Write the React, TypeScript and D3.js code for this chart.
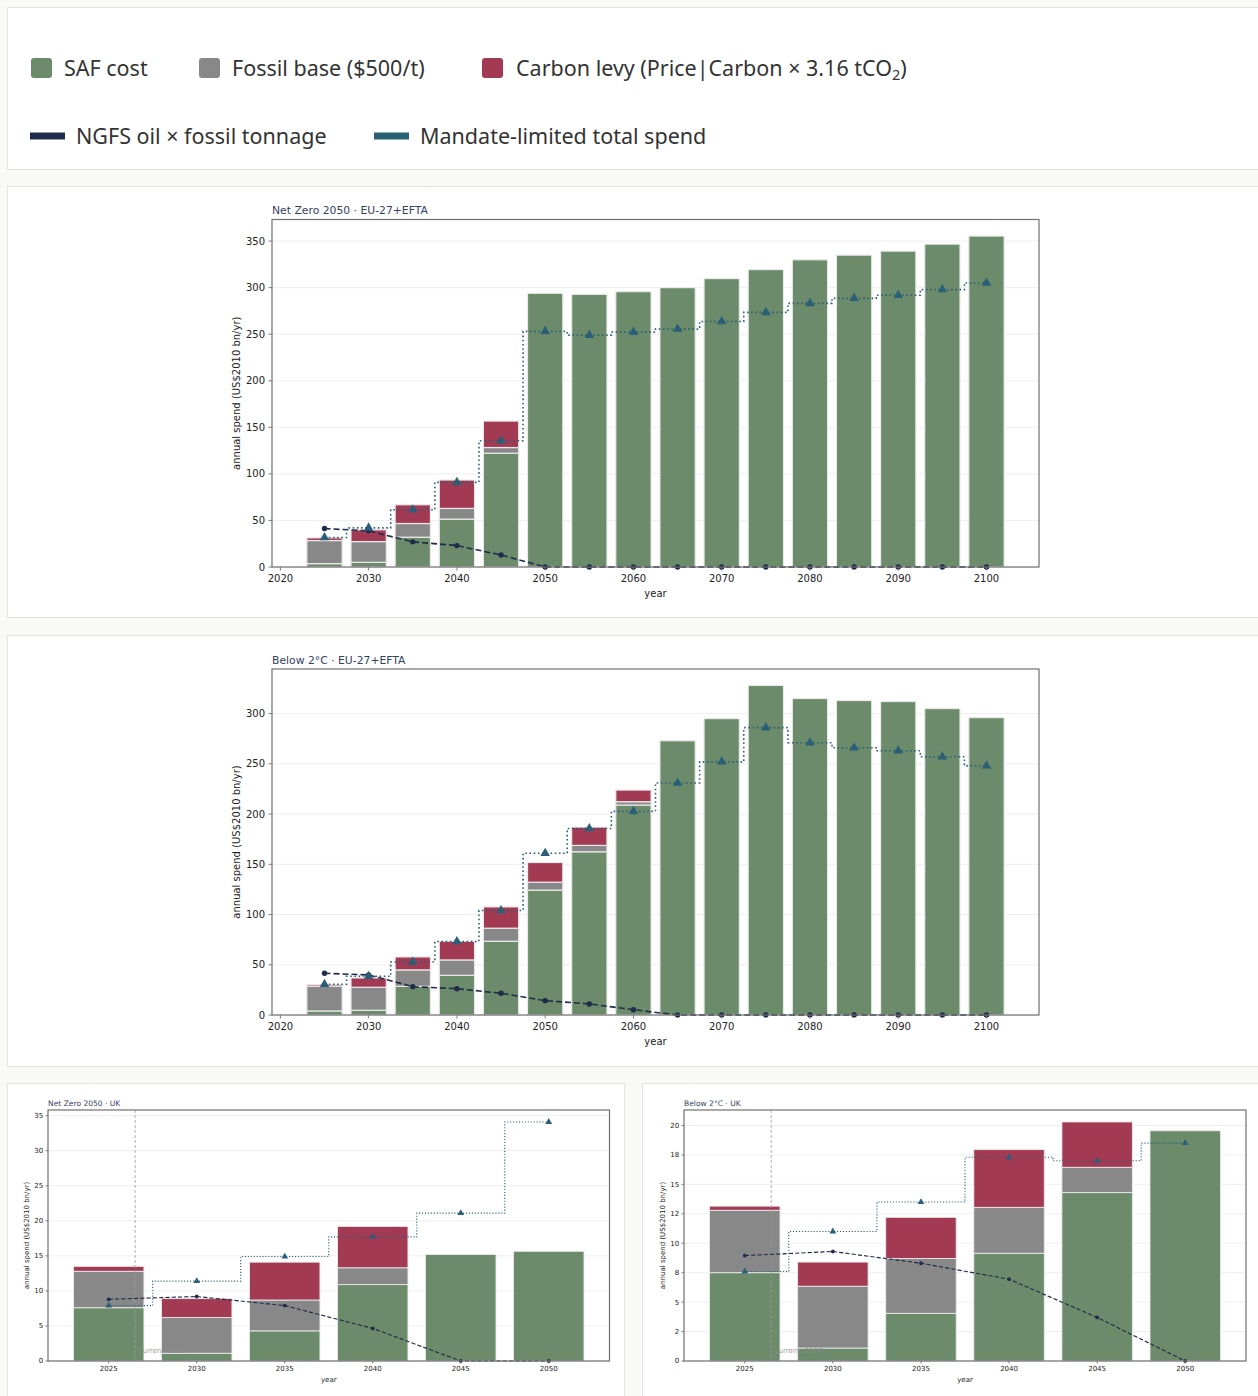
import React from 'react';
import * as d3 from 'd3';

// ---------- categories ----------
const euYears = [2025, 2030, 2035, 2040, 2045, 2050, 2055, 2060, 2065, 2070, 2075, 2080, 2085, 2090, 2095, 2100];
const ukYears = [2025, 2030, 2035, 2040, 2045, 2050];

// ---------- Net Zero 2050 · EU-27+EFTA (US$2010 bn/yr) ----------
const nzEuSaf = [3.6, 5.0, 32.0, 51.4, 122.2, 293.9, 292.8, 295.7, 300.0, 309.7, 319.4, 329.9, 334.9, 339.2, 346.7, 355.4];
const nzEuFossil = [24.8, 22.3, 14.7, 11.5, 6.1, 0, 0, 0, 0, 0, 0, 0, 0, 0, 0, 0];
const nzEuLevy = [2.9, 12.6, 20.1, 30.5, 28.4, 0, 0, 0, 0, 0, 0, 0, 0, 0, 0, 0];
const nzEuMandate = [31.6, 42.0, 61.4, 90.9, 135.5, 253.0, 249.0, 252.2, 255.5, 263.7, 273.4, 283.1, 288.5, 291.8, 297.9, 305.0];
const nzEuNgfs = [41.3, 38.8, 27.0, 23.0, 12.9, 0, 0, 0, 0, 0, 0, 0, 0, 0, 0, 0];

// ---------- Below 2°C · EU-27+EFTA ----------
const b2EuSaf = [4.0, 4.7, 28.6, 39.5, 73.4, 124.3, 162.5, 209.0, 273.0, 295.0, 328.0, 315.0, 313.0, 312.0, 305.0, 296.0];
const b2EuFossil = [24.6, 22.9, 16.3, 15.3, 13.0, 7.9, 6.3, 3.3, 0, 0, 0, 0, 0, 0, 0, 0];
const b2EuLevy = [1.6, 9.3, 12.9, 18.6, 21.2, 19.6, 18.2, 11.6, 0, 0, 0, 0, 0, 0, 0, 0];
const b2EuMandate = [30.6, 38.5, 52.8, 73.1, 104.0, 161.0, 185.7, 202.7, 231.0, 252.0, 286.0, 271.0, 266.0, 263.0, 257.0, 248.0];
const b2EuNgfs = [41.5, 39.9, 28.2, 26.2, 21.6, 14.3, 11.0, 5.3, 0, 0, 0, 0, 0, 0, 0, 0];

// ---------- Net Zero 2050 · UK ----------
const nzUkSaf = [7.6, 1.1, 4.3, 10.9, 15.2, 15.65];
const nzUkFossil = [5.2, 5.1, 4.4, 2.4, 0, 0];
const nzUkLevy = [0.7, 2.7, 5.4, 5.9, 0, 0];
const nzUkMandate = [7.9, 11.4, 14.9, 17.7, 21.1, 34.1];
const nzUkNgfs = [8.8, 9.2, 7.9, 4.65, 0, 0];

// ---------- Below 2°C · UK ----------
const b2UkSaf = [7.5, 1.1, 4.05, 9.15, 14.3, 19.55];
const b2UkFossil = [5.3, 5.25, 4.65, 3.9, 2.15, 0];
const b2UkLevy = [0.35, 2.05, 3.5, 4.9, 3.85, 0];
const b2UkMandate = [7.6, 11.0, 13.5, 17.3, 17.0, 18.5];
const b2UkNgfs = [8.95, 9.3, 8.3, 6.95, 3.7, 0];

// ---------- ticks ----------
const euXTicks = [2020, 2030, 2040, 2050, 2060, 2070, 2080, 2090, 2100];
const ukXTicks = [2025, 2030, 2035, 2040, 2045, 2050];
const nzEuYTicks = [0, 50, 100, 150, 200, 250, 300, 350];
const b2EuYTicks = [0, 50, 100, 150, 200, 250, 300];
const nzUkYTicks = [0, 5, 10, 15, 20, 25, 30, 35];
const b2UkYTicks = [0, 2.5, 5, 7.5, 10, 12.5, 15, 17.5, 20];
const b2UkYTickLabels = ['0', '2', '5', '8', '10', '12', '15', '18', '20'];

const currentYear = 2026;

// ---------- legend ----------
const barLegendLabels = ['SAF cost', 'Fossil base ($500/t)', 'Carbon levy (Price|Carbon × 3.16 tCO'];
const lineLegendLabels = ['NGFS oil × fossil tonnage', 'Mandate-limited total spend'];

const COLORS = {
  saf: '#6b8b6a',
  fossil: '#888888',
  levy: '#a33a53',
  ngfs: '#1f2b4a',
  mandate: '#2b5f78',
  bg: '#f9f9f5',
  card: '#ffffff',
  cardStroke: '#e4e4dc',
  grid: '#ececec',
  spine: '#707070',
  tick: '#222222',
  title: '#34425f',
};

const FONT = '"DejaVu Sans", Verdana, sans-serif';

type Frame = { left: number; top: number; right: number; bottom: number };

type PanelProps = {
  title: string;
  years: number[];
  saf: number[];
  fossil: number[];
  levy: number[];
  mandate: number[];
  ngfs: number[];
  frame: Frame;
  xTicks: number[];
  yTicks: number[];
  yTickLabels?: string[];
  k: number;
  yLabelGap: number;
  showCurrent?: boolean;
};

function SpendPanel(p: PanelProps) {
  const { left, top, right, bottom } = p.frame;
  const k = p.k;
  const fs = 10 * k;
  const half = 2;
  const lo = p.years[0] - half;
  const hi = p.years[p.years.length - 1] + half;
  const pad = (hi - lo) * 0.05;
  const x = d3.scaleLinear().domain([lo - pad, hi + pad]).range([left, right]);

  const rows = p.years.map((yr, i) => ({ year: yr, saf: p.saf[i], fossil: p.fossil[i], levy: p.levy[i] }));
  const keys = ['saf', 'fossil', 'levy'];
  const layers = d3.stack<any>().keys(keys)(rows);
  const yMax = (d3.max([...rows.map((r) => r.saf + r.fossil + r.levy), ...p.mandate, ...p.ngfs]) as number) * 1.05;
  const y = d3.scaleLinear().domain([0, yMax]).range([bottom, top]);

  const stepLine = d3
    .line<number>()
    .x((_, i) => x(p.years[i]))
    .y((d) => y(d))
    .curve(d3.curveStep);
  const straightLine = d3
    .line<number>()
    .x((_, i) => x(p.years[i]))
    .y((d) => y(d));
  const tri = d3.symbol(d3.symbolTriangle, 40 * k * k)() as string;

  const tickLen = 3.5 * k;
  const tickPad = 3.5 * k;
  const midX = (left + right) / 2;
  const midY = (top + bottom) / 2;
  const curX = x(currentYear + 0.5);

  return (
    <g>
      {/* grid */}
      {p.yTicks.map((t) => (
        <line key={'g' + t} x1={left} x2={right} y1={y(t)} y2={y(t)} stroke={COLORS.grid} strokeWidth={0.9} />
      ))}

      {/* stacked bars */}
      {layers.map((layer) => (
        <g key={layer.key}>
          {layer.map((d, i) =>
            d[1] - d[0] > 0 ? (
              <rect
                key={i}
                x={x(p.years[i] - half)}
                width={x(p.years[i] + half) - x(p.years[i] - half)}
                y={y(d[1])}
                height={y(d[0]) - y(d[1])}
                fill={(COLORS as any)[layer.key]}
                stroke="#e9e9e9"
                strokeWidth={1 * k + 0.2}
              />
            ) : null
          )}
        </g>
      ))}

      {/* current-year marker */}
      {p.showCurrent && (
        <g>
          <line x1={curX} x2={curX} y1={top} y2={bottom} stroke="#9a9a9a" strokeWidth={0.8} strokeDasharray="3,2" />
          <text x={curX + 3.5} y={bottom - 8} fontSize={fs} fill="#8f8f8f" fillOpacity={0.9} fontFamily={FONT}>
            current: {currentYear}
          </text>
        </g>
      )}

      {/* NGFS oil × fossil tonnage */}
      <path
        d={straightLine(p.ngfs) as string}
        fill="none"
        stroke={COLORS.ngfs}
        strokeWidth={1.6 * k}
        strokeDasharray={`${6 * k},${3 * k}`}
      />
      {p.ngfs.map((v, i) => (
        <circle key={'n' + i} cx={x(p.years[i])} cy={y(v)} r={2.7 * k} fill={COLORS.ngfs} />
      ))}

      {/* mandate-limited total spend */}
      <path
        d={stepLine(p.mandate) as string}
        fill="none"
        stroke={COLORS.mandate}
        strokeWidth={1.6 * k}
        strokeDasharray={`${1.6 * k},${2.6 * k}`}
      />
      {p.mandate.map((v, i) => (
        <path key={'m' + i} d={tri} transform={`translate(${x(p.years[i])},${y(v)})`} fill={COLORS.mandate} />
      ))}

      {/* frame */}
      <rect x={left} y={top} width={right - left} height={bottom - top} fill="none" stroke={COLORS.spine} strokeWidth={1.2} />

      {/* y axis */}
      {p.yTicks.map((t, i) => (
        <g key={'yt' + t}>
          <line x1={left - tickLen} x2={left} y1={y(t)} y2={y(t)} stroke={COLORS.spine} strokeWidth={0.9} />
          <text
            x={left - tickLen - tickPad}
            y={y(t)}
            dy="0.35em"
            textAnchor="end"
            fontSize={fs}
            fill={COLORS.tick}
            fontFamily={FONT}
          >
            {p.yTickLabels ? p.yTickLabels[i] : d3.format('d')(t)}
          </text>
        </g>
      ))}

      {/* x axis */}
      {p.xTicks.map((t) => (
        <g key={'xt' + t}>
          <line x1={x(t)} x2={x(t)} y1={bottom} y2={bottom + tickLen} stroke={COLORS.spine} strokeWidth={0.9} />
          <text
            x={x(t)}
            y={bottom + tickLen + tickPad + 7.6 * k}
            textAnchor="middle"
            fontSize={fs}
            fill={COLORS.tick}
            fontFamily={FONT}
          >
            {t}
          </text>
        </g>
      ))}

      {/* labels */}
      <text x={midX} y={bottom + 30 * k} textAnchor="middle" fontSize={fs} fill={COLORS.tick} fontFamily={FONT}>
        year
      </text>
      <text
        transform={`translate(${left - p.yLabelGap},${midY}) rotate(-90)`}
        textAnchor="middle"
        fontSize={fs}
        fill={COLORS.tick}
        fontFamily={FONT}
      >
        annual spend (US$2010 bn/yr)
      </text>
      <text x={left} y={top - 5.5 * k} fontSize={fs * 1.08} fill={COLORS.title} fontFamily={FONT}>
        {p.title}
      </text>
    </g>
  );
}

function Legend() {
  const barColors = [COLORS.saf, COLORS.fossil, COLORS.levy];
  const barSwatchX = [31, 199, 482];
  const barTextX = [64, 232, 516];
  const lineColors = [COLORS.ngfs, COLORS.mandate];
  const lineSwatchX = [30, 374];
  const lineTextX = [76, 420];
  const lf = '"Noto Sans", "Open Sans", sans-serif';
  const lfs = 21.5;
  return (
    <g>
      {barLegendLabels.map((lab, i) => (
        <g key={lab}>
          <rect x={barSwatchX[i]} y={58} width={21} height={20} rx={3} fill={barColors[i]} />
          <text x={barTextX[i]} y={76} fontSize={lfs} fill="#333" fontFamily={lf}>
            {lab}
            {i === 2 && (
              <>
                <tspan fontSize={14.5} dy={4}>2</tspan>
                <tspan dy={-4}>)</tspan>
              </>
            )}
          </text>
        </g>
      ))}
      {lineLegendLabels.map((lab, i) => (
        <g key={lab}>
          <rect x={lineSwatchX[i]} y={132.5} width={35} height={7} fill={lineColors[i]} />
          <text x={lineTextX[i]} y={144} fontSize={lfs} fill="#333" fontFamily={lf}>
            {lab}
          </text>
        </g>
      ))}
    </g>
  );
}

export default function App() {
  const W = 1258;
  const H = 1396;
  return (
    <svg
      width={W}
      height={H}
      viewBox={`0 0 ${W} ${H}`}
      style={{ position: 'absolute', left: 0, top: 0, display: 'block' }}
    >
      <rect x={0} y={0} width={W} height={H} fill={COLORS.bg} />
      {/* cards */}
      <rect x={7.5} y={7.5} width={1270} height={162} fill={COLORS.card} stroke={COLORS.cardStroke} />
      <rect x={7.5} y={186.5} width={1270} height={431} fill={COLORS.card} stroke={COLORS.cardStroke} />
      <rect x={7.5} y={635.5} width={1270} height={431} fill={COLORS.card} stroke={COLORS.cardStroke} />
      <rect x={7.5} y={1083.5} width={617} height={330} fill={COLORS.card} stroke={COLORS.cardStroke} />
      <rect x={642.5} y={1083.5} width={630} height={330} fill={COLORS.card} stroke={COLORS.cardStroke} />

      <Legend />

      <SpendPanel
        title="Net Zero 2050 · EU-27+EFTA"
        years={euYears}
        saf={nzEuSaf}
        fossil={nzEuFossil}
        levy={nzEuLevy}
        mandate={nzEuMandate}
        ngfs={nzEuNgfs}
        frame={{ left: 272, top: 219.5, right: 1039, bottom: 567 }}
        xTicks={euXTicks}
        yTicks={nzEuYTicks}
        k={1}
        yLabelGap={32}
      />
      <SpendPanel
        title="Below 2°C · EU-27+EFTA"
        years={euYears}
        saf={b2EuSaf}
        fossil={b2EuFossil}
        levy={b2EuLevy}
        mandate={b2EuMandate}
        ngfs={b2EuNgfs}
        frame={{ left: 272, top: 669, right: 1039, bottom: 1015 }}
        xTicks={euXTicks}
        yTicks={b2EuYTicks}
        k={1}
        yLabelGap={32}
      />
      <SpendPanel
        title="Net Zero 2050 · UK"
        years={ukYears}
        saf={nzUkSaf}
        fossil={nzUkFossil}
        levy={nzUkLevy}
        mandate={nzUkMandate}
        ngfs={nzUkNgfs}
        frame={{ left: 48, top: 1110, right: 609.5, bottom: 1361 }}
        xTicks={ukXTicks}
        yTicks={nzUkYTicks}
        k={0.7}
        yLabelGap={19}
        showCurrent
      />
      <SpendPanel
        title="Below 2°C · UK"
        years={ukYears}
        saf={b2UkSaf}
        fossil={b2UkFossil}
        levy={b2UkLevy}
        mandate={b2UkMandate}
        ngfs={b2UkNgfs}
        frame={{ left: 684, top: 1110, right: 1246, bottom: 1361 }}
        xTicks={ukXTicks}
        yTicks={b2UkYTicks}
        yTickLabels={b2UkYTickLabels}
        k={0.7}
        yLabelGap={19}
        showCurrent
      />
    </svg>
  );
}
